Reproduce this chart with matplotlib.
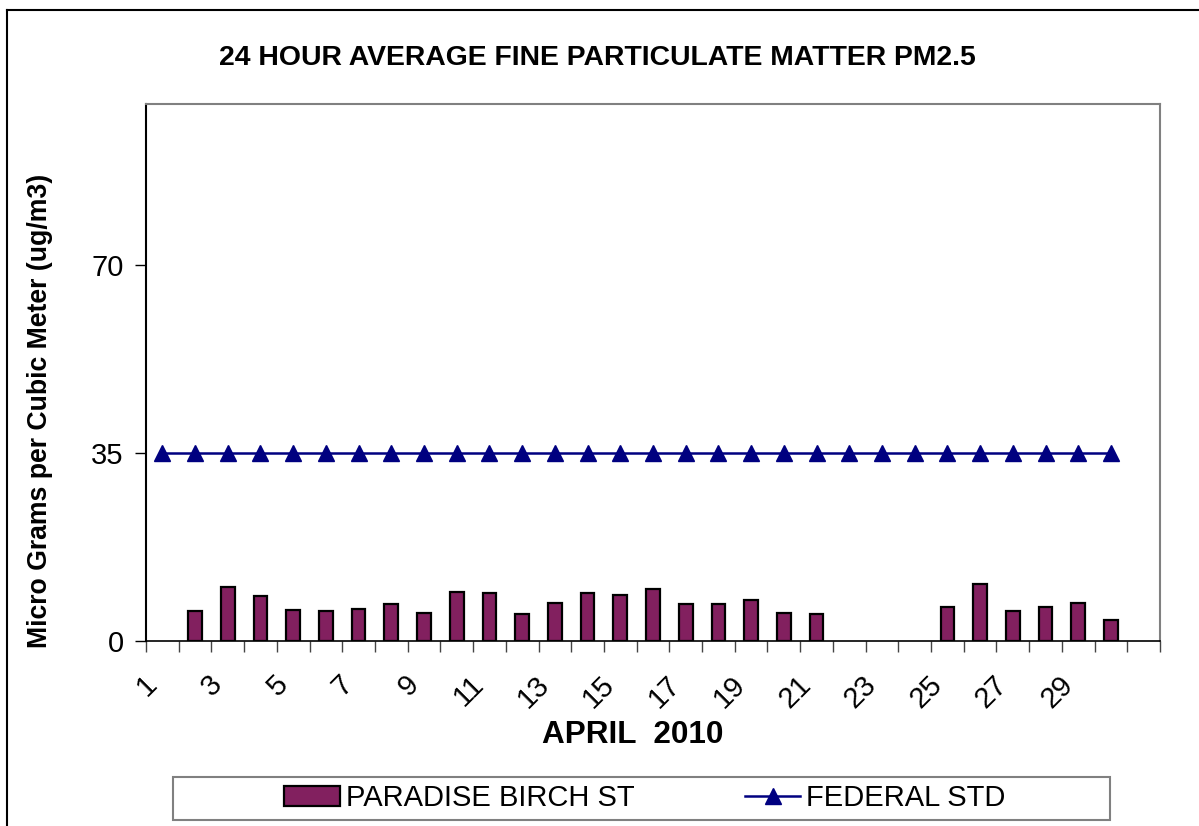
import numpy as np
import matplotlib
matplotlib.use("Agg")
import matplotlib.pyplot as plt
from matplotlib.patches import Rectangle
from matplotlib.lines import Line2D

# April 2010, days 1..31
days = list(range(1, 32))
# daily 24h averages (ug/m3), None = no sample
paradise_birch = [None, 5.5, 10.1, 8.4, 5.7, 5.5, 6.0, 6.9, 5.3, 9.1,
                  8.9, 5.0, 7.0, 8.9, 8.5, 9.7, 6.9, 6.8, 7.6, 5.2,
                  5.0, None, None, None, 6.3, 10.7, 5.5, 6.4, 7.0, 4.0,
                  None]
federal_days = list(range(1, 31))
federal_std = [35] * len(federal_days)
y_ticks = [0, 35, 70]
x_labels = [str(d) for d in range(1, 30, 2)]

W, H = 1199, 826
fig = plt.figure(figsize=(W / 100, H / 100), dpi=100)
plt.rcParams['font.family'] = ['Liberation Sans', 'DejaVu Sans']

def fx(px):
    return px / W

def fy(py):
    return 1 - py / H

ax = fig.add_axes([fx(146), fy(641), fx(1160) - fx(146), fy(104) - fy(641)])

bar_x = [d for d, v in zip(days, paradise_birch) if v is not None]
bar_v = [v for v in paradise_birch if v is not None]
ax.bar(bar_x, bar_v, width=0.42, color='#82205F', edgecolor='black',
       linewidth=1.6, zorder=2)
ax.plot(federal_days, federal_std, color='#000080', linewidth=1.8,
        marker='^', markersize=11, zorder=3)

ax.set_xlim(0.5, 31.5)
ax.set_ylim(0, 100)
ax.set_yticks(y_ticks)
ax.set_yticklabels([str(t) for t in y_ticks], fontsize=21)
ax.tick_params(axis='y', direction='out', length=8, width=1, pad=8)

# tick marks between categories, labels on odd days
ax.set_xticks(np.arange(0.5, 32, 1))
ax.set_xticklabels([])
ax.tick_params(axis='x', which='major', direction='out', length=8,
               width=1, color='#444444')
ax.set_xticks(range(1, 30, 2), minor=True)
ax.set_xticklabels(x_labels, minor=True, rotation=45, ha='right',
                   fontsize=21)
ax.tick_params(axis='x', which='minor', length=0, pad=21)

for side in ['top', 'right']:
    ax.spines[side].set_color('#808080')
    ax.spines[side].set_linewidth(1.5)
ax.spines['left'].set_linewidth(1.5)
ax.spines['bottom'].set_linewidth(1.2)

fig.text(fx(597), fy(58), '24 HOUR AVERAGE FINE PARTICULATE MATTER PM2.5',
         ha='center', va='center', fontsize=20.4, fontweight='bold')
fig.text(fx(633), fy(735), 'APRIL  2010', ha='center', va='center',
         fontsize=22.7, fontweight='bold')
fig.text(fx(40), fy(411), 'Micro Grams per Cubic Meter (ug/m3)',
         ha='center', va='center', rotation=90, fontsize=19.2,
         fontweight='bold')

# chart border (left and top edges visible)
fig.add_artist(Line2D([fx(7), fx(7)], [fy(10), 0], color='black', lw=1.5))
fig.add_artist(Line2D([fx(7), 1], [fy(10), fy(10)], color='black', lw=1.5))

# legend box
fig.add_artist(Rectangle((fx(173), fy(820)), fx(1110) - fx(173),
                         fy(777) - fy(820), transform=fig.transFigure,
                         fill=False, edgecolor='#808080', lw=1.5))
handles = [Rectangle((0, 0), 1, 1, facecolor='#82205F', edgecolor='black',
                     linewidth=1.6),
           Line2D([], [], color='#000080', lw=1.8, marker='^', markersize=11)]
fig.legend(handles, ['PARADISE BIRCH ST', 'FEDERAL STD'], ncol=2,
           loc='center', bbox_to_anchor=(fx(645), fy(798)), frameon=False,
           handlelength=1.9, handletextpad=0.2, columnspacing=3.8,
           prop={'family': 'Liberation Sans', 'size': 21})

fig.savefig('out.png', dpi=100)
